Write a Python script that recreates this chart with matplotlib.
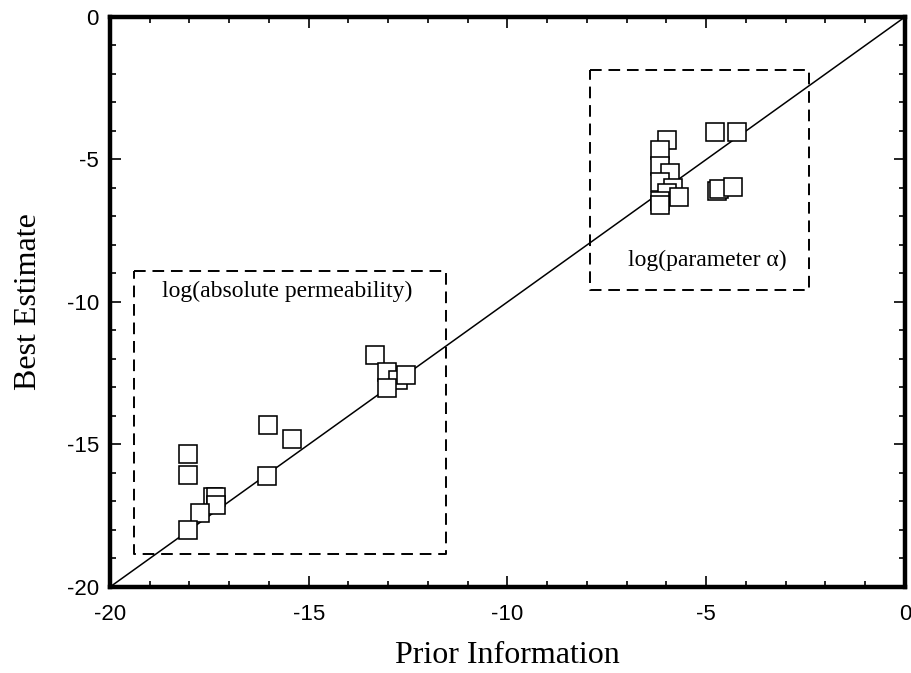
import matplotlib
matplotlib.use("Agg")
import matplotlib.pyplot as plt
from matplotlib.ticker import MultipleLocator

plt.rcParams['axes.unicode_minus'] = False

# Data: (prior information, best estimate)
perm_prior = [-16.03, -15.42, -18.03, -18.03, -16.04, -17.41, -17.32, -17.32, -17.74, -18.03,
              -13.32, -13.04, -12.75, -12.55, -13.03]
perm_best = [-14.32, -14.81, -15.34, -16.07, -16.11, -16.85, -16.83, -17.13, -17.41, -18.00,
             -11.86, -12.45, -12.74, -12.56, -13.01]

alpha_prior = [-5.99, -6.17, -6.17, -5.90, -6.17, -5.84, -5.99, -5.68, -6.17, -6.17,
               -4.78, -4.23, -4.72, -4.69, -4.33]
alpha_best = [-4.32, -4.67, -5.23, -5.49, -5.78, -6.01, -6.19, -6.31, -6.45, -6.60,
              -4.02, -4.02, -6.10, -6.05, -5.95]

line_x = [-20, 0]
line_y = [-20, 0]

perm_box = [-19.4, -11.55, -18.85, -8.9]   # x0, x1, y0, y1
alpha_box = [-7.92, -2.42, -9.58, -1.87]

ticks = [-20, -15, -10, -5, 0]
tick_labels = ['-20', '-15', '-10', '-5', '0']

fig = plt.figure(figsize=(9.11, 6.73), dpi=100)
ax = fig.add_axes([0.1207, 0.1278, 0.8727, 0.8470])

ax.plot(line_x, line_y, color='black', lw=1.1, zorder=2)

for b in (perm_box, alpha_box):
    x0, x1, y0, y1 = b
    ax.plot([x0, x1, x1, x0, x0], [y1, y1, y0, y0, y1], color='black', lw=1.4,
            linestyle=(0, (6, 3.5)), zorder=1)

ax.plot(perm_prior, perm_best, linestyle='none', marker='s', markersize=12.8,
        markerfacecolor='white', markeredgecolor='black', markeredgewidth=1.15, zorder=3)
ax.plot(alpha_prior, alpha_best, linestyle='none', marker='s', markersize=12.8,
        markerfacecolor='white', markeredgecolor='black', markeredgewidth=1.15, zorder=3)

ax.text(-15.55, -9.64, 'log(absolute permeability)', family='Liberation Serif',
        fontsize=17, ha='center', va='center')
ax.text(-4.97, -8.53, 'log(parameter α)', family='Liberation Serif',
        fontsize=17, ha='center', va='center')

ax.set_xlim(-20, 0)
ax.set_ylim(-20, 0)
ax.set_xticks(ticks)
ax.set_xticklabels(tick_labels)
ax.set_yticks(ticks)
ax.set_yticklabels(tick_labels)
ax.xaxis.set_minor_locator(MultipleLocator(1))
ax.yaxis.set_minor_locator(MultipleLocator(1))
ax.tick_params(which='both', direction='in', top=True, right=True, width=1.2)
ax.tick_params(which='major', length=8)
ax.tick_params(axis='x', which='major', pad=12)
ax.tick_params(axis='y', which='major', pad=8)
ax.tick_params(which='minor', length=4)
for lab in ax.get_xticklabels() + ax.get_yticklabels():
    lab.set_family('Liberation Sans')
    lab.set_fontsize(16)
for s in ax.spines.values():
    s.set_linewidth(3.2)

ax.set_xlabel('Prior Information', family='Liberation Serif', fontsize=23, labelpad=12)
ax.set_ylabel('Best Estimate', family='Liberation Serif', fontsize=23, labelpad=17)

fig.savefig('out.png', dpi=100)
